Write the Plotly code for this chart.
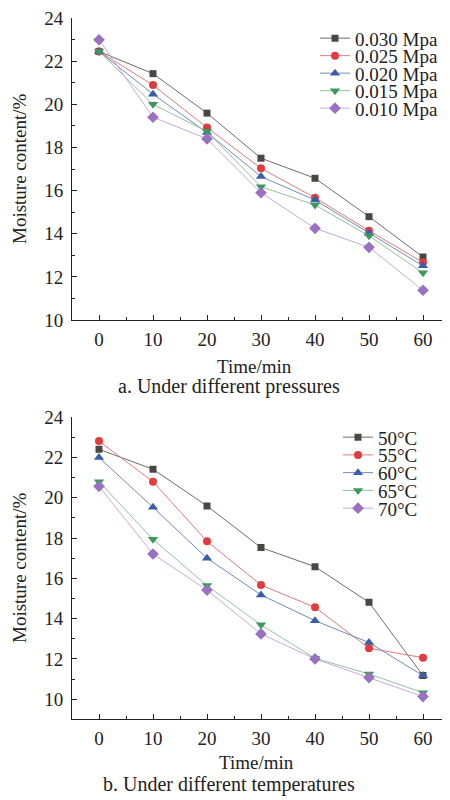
import plotly.graph_objects as go

time_min = [0, 10, 20, 30, 40, 50, 60]

# (a) different pressures
pressure_names = ["0.030 Mpa", "0.025 Mpa", "0.020 Mpa", "0.015 Mpa", "0.010 Mpa"]
p030 = [22.45, 21.42, 19.59, 17.50, 16.57, 14.79, 12.92]
p025 = [22.45, 20.89, 18.92, 17.03, 15.67, 14.14, 12.67]
p020 = [22.45, 20.47, 18.69, 16.65, 15.56, 14.02, 12.51]
p015 = [22.45, 20.00, 18.74, 16.18, 15.33, 13.90, 12.19]
p010 = [22.99, 19.40, 18.40, 15.90, 14.25, 13.37, 11.38]
pressure_series = [p030, p025, p020, p015, p010]

# (b) different temperatures
temp_names = ["50°C", "55°C", "60°C", "65°C", "70°C"]
t50 = [22.41, 21.42, 19.60, 17.53, 16.58, 14.81, 11.17]
t55 = [22.82, 20.80, 17.84, 15.67, 14.56, 12.53, 12.06]
t60 = [22.00, 19.53, 17.00, 15.18, 13.90, 12.81, 11.17]
t65 = [20.80, 17.94, 15.64, 13.69, 12.03, 11.25, 10.32]
t70 = [20.57, 17.21, 15.42, 13.24, 12.00, 11.07, 10.13]
temp_series = [t50, t55, t60, t65, t70]

# The page body has an 8px default margin; size the figure to fill the rest
OFF = 8
W, H = 450 - OFF, 800 - OFF
FONT = "Liberation Serif, Times New Roman, serif"

styles = [
    dict(symbol="square", size=7, mcolor="#4a4646", lcolor="#6e6a6a"),
    dict(symbol="circle", size=8, mcolor="#e23b3f", lcolor="#e07a7c"),
    dict(symbol="triangle-up", size=9, mcolor="#3b5ea8", lcolor="#7089b8"),
    dict(symbol="triangle-down", size=9, mcolor="#3a9a5c", lcolor="#8fc49e"),
    dict(symbol="diamond", size=9, mcolor="#9a70c0", lcolor="#c7a9dc"),
]

def px_x(p):
    return (p - OFF) / W

def px_y(p):
    return 1 - (p - OFF) / H

fig = go.Figure()

# legend positions (screen pixels)
legA_x, legA_y0, legA_dy = 315, 38.3, 17.5
legB_x, legB_y0, legB_dy = 338, 437.3, 17.75

layout_legends = {}
for i, (name, vals) in enumerate(zip(pressure_names, pressure_series)):
    st = styles[i]
    lg = "legend" if i == 0 else f"legend{i + 1}"
    fig.add_trace(go.Scatter(
        x=time_min, y=vals, name=name, mode="lines+markers",
        xaxis="x", yaxis="y", legend=lg,
        line=dict(color=st["lcolor"], width=1),
        marker=dict(symbol=st["symbol"], size=st["size"], color=st["mcolor"],
                    line=dict(width=0)),
    ))
    layout_legends[lg] = dict(
        x=px_x(legA_x), y=px_y(legA_y0 + i * legA_dy), xanchor="left", yanchor="middle",
        bgcolor="rgba(0,0,0,0)", borderwidth=0, font=dict(family=FONT, size=19, color="#222"),
        tracegroupgap=0, itemwidth=30,
    )

for i, (name, vals) in enumerate(zip(temp_names, temp_series)):
    st = styles[i]
    lg = f"legend{i + 6}"
    fig.add_trace(go.Scatter(
        x=time_min, y=vals, name=name, mode="lines+markers",
        xaxis="x2", yaxis="y2", legend=lg,
        line=dict(color=st["lcolor"], width=1),
        marker=dict(symbol=st["symbol"], size=st["size"], color=st["mcolor"],
                    line=dict(width=0)),
    ))
    layout_legends[lg] = dict(
        x=px_x(legB_x), y=px_y(legB_y0 + i * legB_dy), xanchor="left", yanchor="middle",
        bgcolor="rgba(0,0,0,0)", borderwidth=0, font=dict(family=FONT, size=19, color="#222"),
        tracegroupgap=0, itemwidth=30,
    )

tickfont = dict(family=FONT, size=19, color="#222")

def xaxis_cfg(anchor):
    return dict(
        domain=[px_x(72), 1], range=[-5, 65], anchor=anchor,
        tickmode="linear", tick0=0, dtick=10,
        ticks="inside", ticklen=5, tickwidth=1, tickcolor="#222",
        minor=dict(ticks="inside", ticklen=3, tickwidth=1, tickcolor="#222", dtick=5, tick0=0),
        showline=True, linecolor="#222", linewidth=1,
        showgrid=False, zeroline=False, tickfont=tickfont,
        ticklabelstandoff=2, automargin=False, ticklabeloverflow="allow",
    )

def yaxis_cfg(anchor, rng, dom):
    return dict(
        domain=dom, range=rng, anchor=anchor,
        tickmode="linear", tick0=0, dtick=2,
        ticks="inside", ticklen=5, tickwidth=1, tickcolor="#222",
        minor=dict(ticks="inside", ticklen=3, tickwidth=1, tickcolor="#222", dtick=1, tick0=0),
        showline=True, linecolor="#222", linewidth=1,
        showgrid=False, zeroline=False, tickfont=tickfont,
        ticklabelstandoff=4, automargin=False, ticklabeloverflow="allow",
    )

annotations = [
    dict(text="Moisture content/%", x=px_x(19), y=px_y(169), textangle=-90),
    dict(text="Time/min", x=px_x(254), y=px_y(366)),
    dict(text="a. Under different pressures", x=px_x(229), y=px_y(386), size=20),
    dict(text="Moisture content/%", x=px_x(19), y=px_y(568), textangle=-90),
    dict(text="Time/min", x=px_x(256), y=px_y(762)),
    dict(text="b. Under different temperatures", x=px_x(229), y=px_y(784), size=20),
]
ann_objs = []
for a in annotations:
    ann_objs.append(dict(
        text=a["text"], x=a["x"], y=a["y"], xref="paper", yref="paper",
        xanchor="center", yanchor="middle", showarrow=False,
        textangle=a.get("textangle", 0),
        font=dict(family=FONT, size=a.get("size", 19), color="#222"),
    ))

fig.update_layout(
    width=W, height=H,
    margin=dict(l=0, r=0, t=0, b=0, autoexpand=False),
    paper_bgcolor="white", plot_bgcolor="white",
    showlegend=True,
    xaxis=xaxis_cfg("y"),
    yaxis=yaxis_cfg("x", [10, 24], [px_y(320), px_y(18)]),
    xaxis2=xaxis_cfg("y2"),
    yaxis2=yaxis_cfg("x2", [9, 24], [px_y(719.3), px_y(417.3)]),
    annotations=ann_objs,
    **layout_legends,
)

fig.write_html("out.html")
